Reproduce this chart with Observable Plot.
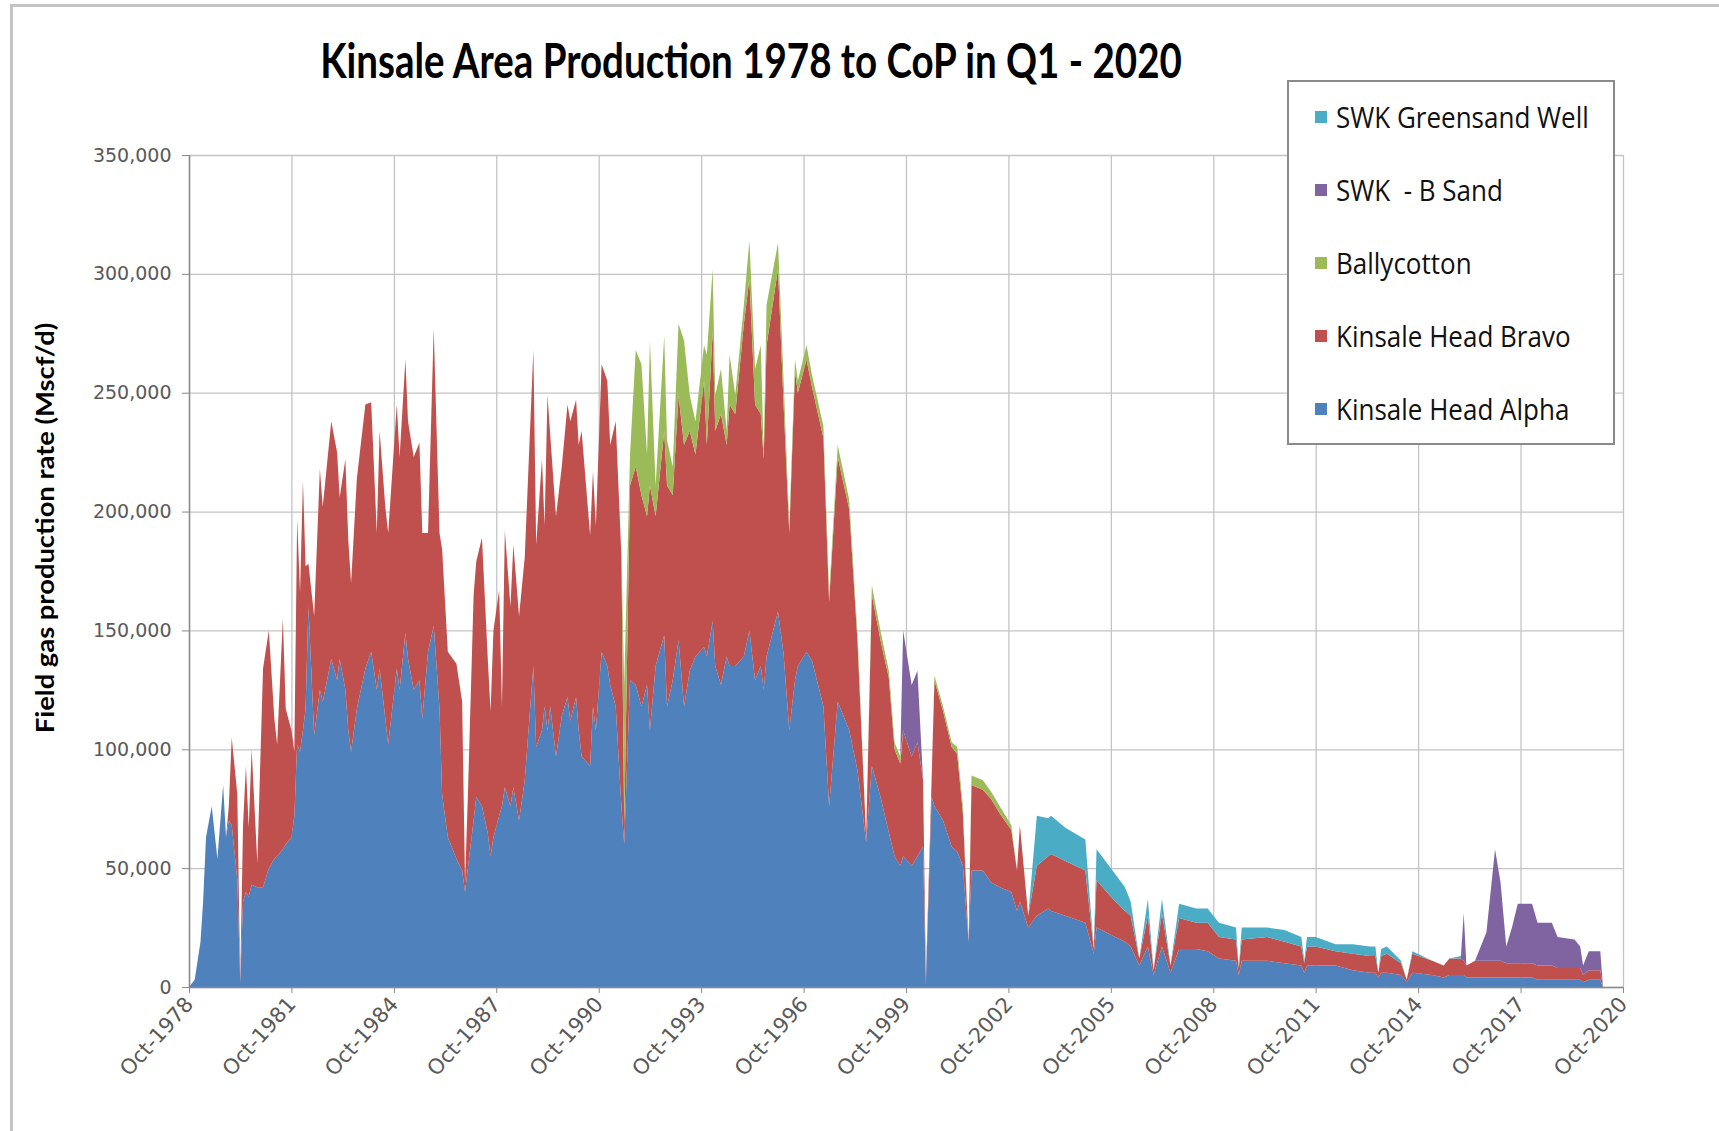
<!DOCTYPE html>
<html>
<head>
<meta charset="utf-8">
<script src="https://cdn.jsdelivr.net/npm/d3@7"></script>
<script src="https://cdn.jsdelivr.net/npm/@observablehq/plot@0.6"></script>
<style>
  html, body { margin: 0; padding: 0; background: #fff; width: 1719px; height: 1131px; overflow: hidden; }
  #frame { position: absolute; left: 10px; top: 4px; width: 1780px; height: 1200px; border-left: 3px solid #c4c4c4; border-top: 3px solid #c4c4c4; }
  #chart { position: absolute; left: 0; top: 0; }
  #title { position: absolute; left: 0; width: 1502px; top: 35px; text-align: center; font-family: Lato, sans-serif; font-weight: bold; font-size: 38.5px; line-height: 50px; color: #000; transform: scaleY(1.22); white-space: nowrap; }
  #ylabel { position: absolute; left: 44px; top: 528px; transform: translate(-50%, -50%) rotate(-90deg) scaleX(1.14); font-family: Lato, sans-serif; font-weight: bold; font-size: 24px; white-space: nowrap; color: #000; }
  #legend { position: absolute; left: 1287px; top: 80px; width: 324px; height: 361px; border: 2px solid #8a8a8a; background: #fff; }
  .item { position: absolute; left: 26px; height: 40px; display: flex; align-items: center; font-family: "Open Sans", sans-serif; font-size: 26px; color: #111; white-space: pre; }
  .sw { width: 12px; height: 12px; margin-right: 9px; }
  .item span { display: inline-block; transform: scaleY(1.1); white-space: pre; }
</style>
</head>
<body>
<div id="frame"></div>
<div id="chart"></div>
<div id="title">Kinsale Area Production 1978 to CoP in Q1 - 2020</div>
<div id="ylabel">Field gas production rate (Mscf/d)</div>
<div id="legend"></div>
<script>
// Monthly sample dates (YYYY-MM)
const dates = [
"1978-10","1978-12","1979-02","1979-03","1979-04","1979-06","1979-08","1979-10","1979-11","1979-12",
"1980-01","1980-03","1980-04","1980-05","1980-06","1980-07","1980-08","1980-10","1980-12","1981-02",
"1981-04","1981-05","1981-07","1981-08","1981-10","1981-11","1981-12","1982-01","1982-02","1982-03",
"1982-04","1982-06","1982-08","1982-09","1982-12","1983-02","1983-03","1983-05","1983-06","1983-07",
"1983-09","1983-12","1984-02","1984-04","1984-05","1984-07","1984-08","1984-11","1984-12","1985-02",
"1985-03","1985-05","1985-07","1985-08","1985-10","1985-12","1986-02","1986-03","1986-05","1986-08",
"1986-10","1986-11","1986-12","1987-02","1987-03","1987-05","1987-07","1987-08","1987-09","1987-11",
"1987-12","1988-01","1988-03","1988-04","1988-06","1988-08","1988-11","1988-12","1989-02","1989-03",
"1989-04","1989-05","1989-07","1989-09","1989-11","1989-12","1990-02","1990-03","1990-04","1990-07",
"1990-08","1990-09","1990-11","1991-01","1991-02","1991-04","1991-06","1991-07","1991-09","1991-11",
"1992-01","1992-03","1992-04","1992-06","1992-09","1992-10","1992-12","1993-02","1993-04","1993-06",
"1993-08","1993-11","1993-12","1994-02","1994-03","1994-05","1994-07","1994-08","1994-10","1995-01",
"1995-03","1995-05","1995-07","1995-08","1995-09","1996-01","1996-03","1996-05","1996-07","1996-08",
"1996-11","1997-01","1997-05","1997-07","1997-10","1998-02","1998-05","1998-08","1998-10","1999-01",
"1999-04","1999-06","1999-08","1999-09","1999-12","2000-02","2000-04","2000-05","2000-07","2000-08",
"2000-11","2001-02","2001-04","2001-06","2001-08","2001-09","2002-01","2002-04","2002-07","2002-11",
"2003-01","2003-02","2003-05","2003-08","2003-12","2004-01","2004-06","2005-01","2005-04","2005-05",
"2005-10","2006-03","2006-05","2006-08","2006-11","2007-01","2007-04","2007-07","2007-10","2008-04",
"2008-08","2008-12","2009-06","2009-07","2009-08","2010-05","2010-11","2011-05","2011-06","2011-07",
"2011-10","2012-05","2012-11","2013-05","2013-07","2013-08","2013-09","2013-11","2014-04","2014-06",
"2014-08","2015-03","2015-07","2015-09","2016-01","2016-02","2016-03","2016-06","2016-10","2017-01",
"2017-03","2017-05","2017-07","2017-09","2018-02","2018-04","2018-09","2018-11","2019-05","2019-07",
"2019-08","2019-10","2020-02","2020-03"
];

// Rates in thousand Mscf/d
const alpha = [
0,3,19,36,63,76,54,85,63,70,
68,45,2,36,40,38,43,42,42,50,
54,55,58,60,63,72,102,99,108,117,
160,106,125,120,138,129,138,125,108,99,
117,134,141,125,134,113,102,134,125,149,
138,125,129,113,141,152,117,81,63,54,
49,40,50,70,80,76,65,55,63,72,
76,84,76,84,70,87,135,101,108,118,
108,118,97,114,122,112,122,108,97,93,
118,108,141,135,127,118,76,60,129,127,
118,127,108,135,148,118,129,146,118,133,
139,143,139,154,135,127,139,135,135,139,
150,129,135,125,139,158,140,108,129,135,
141,137,118,76,120,108,91,61,93,80,
65,55,51,55,51,55,59,1,80,76,
70,59,57,51,19,49,49,44,42,40,
32,36,25,30,33,32,30,27,14,25,
22,19,17,9,17,5,17,6,16,16,
15,12,11,5,11,11,10,9,6,9,
9,9,7,6,6,4,6,6,5,2,
6,5,4,5,5,5,4,4,4,4,
4,4,4,4,4,3,3,3,3,3,
2,3,3,0
];
const bravo = [
0,0,0,0,0,0,0,0,0,6,
37,36,1,32,53,29,57,10,92,100,
59,47,97,57,45,27,95,67,105,60,
18,50,93,82,100,96,68,97,80,71,
97,111,105,66,100,89,89,111,98,115,
100,98,100,78,50,125,74,103,78,82,
71,4,30,95,99,113,74,61,87,95,
42,108,84,102,86,94,133,85,114,76,
141,114,101,105,123,126,125,120,137,97,
99,86,121,120,101,120,105,8,82,92,
89,71,103,63,86,93,78,103,110,101,
85,112,89,122,99,114,89,110,106,140,
148,116,106,97,131,144,105,83,130,115,
123,115,113,86,103,93,54,2,72,66,
65,45,43,53,46,48,28,3,7,53,
46,42,41,22,0,36,34,35,31,26,
17,32,5,21,22,24,23,22,2,20,
16,13,13,3,13,2,14,3,13,11,
12,9,9,3,9,10,9,8,4,8,
8,6,7,7,7,2,7,8,5,1,
8,6,5,7,7,6,5,7,7,7,
7,6,6,6,6,6,6,5,5,5,
3,4,4,0
];
const ballycotton = [
0,0,0,0,0,0,0,0,0,0,
0,0,0,0,0,0,0,0,0,0,
0,0,0,0,0,0,0,0,0,0,
0,0,0,0,0,0,0,0,0,0,
0,0,0,0,0,0,0,0,0,0,
0,0,0,0,0,0,0,0,0,0,
0,0,0,0,0,0,0,0,0,0,
0,0,0,0,0,0,0,0,0,0,
0,0,0,0,0,0,0,0,0,0,
0,0,0,0,0,0,0,59,13,49,
55,26,61,13,40,19,12,30,44,15,
14,15,38,26,15,19,6,21,8,8,
16,15,29,3,17,11,10,3,5,5,
6,5,5,3,5,4,3,0,4,4,
3,3,3,0,0,0,0,0,0,2,
2,2,3,3,0,4,4,3,3,2,
0,0,0,0,0,0,0,0,0,0,
0,0,0,0,0,0,0,0,0,0,
0,0,0,0,0,0,0,0,0,0,
0,0,0,0,0,0,0,0,0,0,
0,0,0,0,0,0,0,0,0,0,
0,0,0,0,0,0,0,0,0,0,
0,0,0,0
];
const bSand = [
0,0,0,0,0,0,0,0,0,0,
0,0,0,0,0,0,0,0,0,0,
0,0,0,0,0,0,0,0,0,0,
0,0,0,0,0,0,0,0,0,0,
0,0,0,0,0,0,0,0,0,0,
0,0,0,0,0,0,0,0,0,0,
0,0,0,0,0,0,0,0,0,0,
0,0,0,0,0,0,0,0,0,0,
0,0,0,0,0,0,0,0,0,0,
0,0,0,0,0,0,0,0,0,0,
0,0,0,0,0,0,0,0,0,0,
0,0,0,0,0,0,0,0,0,0,
0,0,0,0,0,0,0,0,0,0,
0,0,0,0,0,0,0,0,0,0,
0,0,0,42,30,30,0,0,0,0,
0,0,0,0,0,0,0,0,0,0,
0,0,0,0,0,0,0,0,0,0,
0,0,0,0,0,0,0,0,0,0,
0,0,0,0,0,0,0,0,0,0,
0,0,0,0,0,0,0,0,0,0,
0,0,0,0,0,20,0,0,12,47,
33,7,15,25,25,18,18,13,12,9,
4,8,8,0
];
const greensand = [
0,0,0,0,0,0,0,0,0,0,
0,0,0,0,0,0,0,0,0,0,
0,0,0,0,0,0,0,0,0,0,
0,0,0,0,0,0,0,0,0,0,
0,0,0,0,0,0,0,0,0,0,
0,0,0,0,0,0,0,0,0,0,
0,0,0,0,0,0,0,0,0,0,
0,0,0,0,0,0,0,0,0,0,
0,0,0,0,0,0,0,0,0,0,
0,0,0,0,0,0,0,0,0,0,
0,0,0,0,0,0,0,0,0,0,
0,0,0,0,0,0,0,0,0,0,
0,0,0,0,0,0,0,0,0,0,
0,0,0,0,0,0,0,0,0,0,
0,0,0,0,0,0,0,0,0,0,
0,0,0,0,0,0,0,0,0,0,
0,0,0,21,16,16,14,13,0,13,
12,10,6,0,7,0,6,0,6,6,
6,6,5,0,5,4,5,4,1,4,
4,3,4,4,4,0,3,3,1,0,
1,0,0,0,1,0,0,0,0,0,
0,0,0,0,0,0,0,0,0,0,
0,0,0,0
];

const seriesNames = ["Kinsale Head Alpha", "Kinsale Head Bravo", "Ballycotton", "SWK  - B Sand", "SWK Greensand Well"];
const seriesColors = ["#4F81BD", "#C0504D", "#9BBB59", "#8064A2", "#4BACC6"];
const legendOrder = ["SWK Greensand Well", "SWK  - B Sand", "Ballycotton", "Kinsale Head Bravo", "Kinsale Head Alpha"];
const xTickLabels = ["Oct-1978","Oct-1981","Oct-1984","Oct-1987","Oct-1990","Oct-1993","Oct-1996","Oct-1999","Oct-2002","Oct-2005","Oct-2008","Oct-2011","Oct-2014","Oct-2017","Oct-2020"];
const yTickValues = [0, 50000, 100000, 150000, 200000, 250000, 300000, 350000];

const parseMonth = d3.utcParse("%Y-%m");
const parseTick = d3.utcParse("%b-%Y");
const seriesValues = [alpha, bravo, ballycotton, bSand, greensand];
seriesValues.forEach((s, k) => { if (s.length !== dates.length) console.error("length mismatch", seriesNames[k], s.length, dates.length); });

const rows = [];
dates.forEach((d, i) => {
  seriesValues.forEach((vals, k) => {
    rows.push({date: parseMonth(d), series: seriesNames[k], value: vals[i] * 1000});
  });
});
const xTicks = xTickLabels.map(parseTick);

const chart = Plot.plot({
  width: 1719,
  height: 1131,
  marginTop: 155,
  marginRight: 96,
  marginBottom: 144,
  marginLeft: 189,
  style: {fontFamily: "'DejaVu Sans', sans-serif", fontSize: "19px", color: "#595959", background: "transparent", overflow: "visible"},
  x: {type: "utc", domain: [xTicks[0], xTicks[xTicks.length - 1]]},
  y: {domain: [0, 350000]},
  color: {domain: seriesNames, range: seriesColors},
  marks: [
    Plot.gridX(xTicks, {stroke: "#c4c4c4", strokeOpacity: 1, strokeWidth: 1.3}),
    Plot.gridY(yTickValues, {stroke: "#c4c4c4", strokeOpacity: 1, strokeWidth: 1.3}),
    Plot.areaY(rows, {x: "date", y: "value", fill: "series", order: seriesNames}),
    Plot.ruleX([xTicks[0]], {stroke: "#8a8a8a", strokeWidth: 1.5}),
    Plot.ruleY([0], {stroke: "#8a8a8a", strokeWidth: 1.5}),
    Plot.axisY(yTickValues, {tickFormat: d3.format(","), tickSize: 7, tickPadding: 11, label: null, stroke: "#8a8a8a"}),
    Plot.axisX(xTicks, {tickFormat: d3.utcFormat("%b-%Y"), tickRotate: -48, tickSize: 6, tickPadding: 7, fontSize: 21, label: null, stroke: "#8a8a8a"})
  ]
});
document.getElementById("chart").appendChild(chart);

const legend = document.getElementById("legend");
legendOrder.forEach((name, i) => {
  const item = document.createElement("div");
  item.className = "item";
  item.style.top = (15 + i * 73) + "px";
  const sw = document.createElement("div");
  sw.className = "sw";
  sw.style.background = seriesColors[seriesNames.indexOf(name)];
  const tx = document.createElement("span");
  tx.textContent = name;
  item.appendChild(sw);
  item.appendChild(tx);
  legend.appendChild(item);
});
</script>
</body>
</html>
